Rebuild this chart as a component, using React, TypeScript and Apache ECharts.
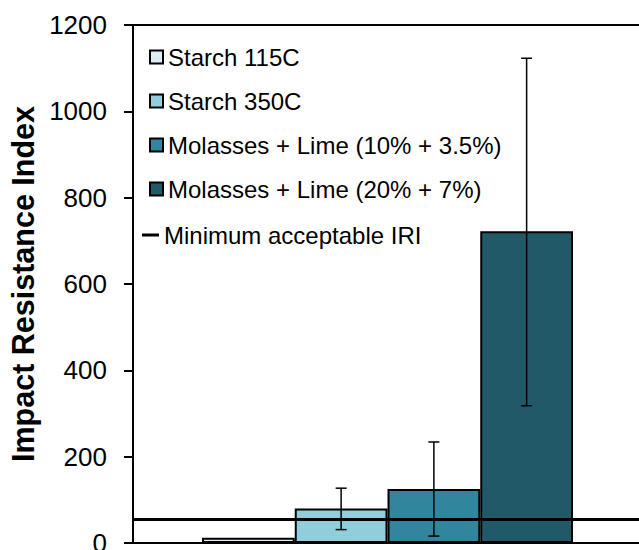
import React, { useEffect, useRef } from "react";
import * as echarts from "echarts";

const seriesNames = [
  "Starch 115C",
  "Starch 350C",
  "Molasses + Lime (10% + 3.5%)",
  "Molasses + Lime (20% + 7%)",
];
const barValues = [12, 80, 125, 722];
const errLow = [null, 31, 16, 318];
const errHigh = [null, 127, 234, 1123];
const barColors = ["#DAEEF3", "#92CDDC", "#31859C", "#215968"];
const lineName = "Minimum acceptable IRI";
const minIRI = 56;
const yTicks = { min: 0, max: 1200, interval: 200 };

const FONT = "'Liberation Sans', Arial, sans-serif";
const BAR_W = 92.75;

export default function App() {
  const ref = useRef<HTMLDivElement>(null);
  useEffect(() => {
    if (!ref.current) return;
    const chart = echarts.init(ref.current, undefined, { renderer: "svg" });
    const errData = errLow
      .map((lo, i) => (lo == null ? null : [0, lo, errHigh[i], i]))
      .filter((d) => d !== null);
    const option: any = {
      animation: false,
      backgroundColor: "#ffffff",
      textStyle: { fontFamily: FONT, color: "#000" },
      grid: {
        left: 133,
        top: 25,
        width: 509,
        height: 518,
        containLabel: false,
        outerBoundsMode: "none",
      },
      legend: [
        {
          data: seriesNames,
          orient: "vertical",
          left: 149,
          top: 45,
          itemWidth: 13,
          itemHeight: 13,
          itemGap: 20,
          padding: 0,
          icon: "rect",
          textStyle: { fontFamily: FONT, fontSize: 24, lineHeight: 24, color: "#000" },
        },
        {
          data: [{ name: lineName, icon: "rect" }],
          orient: "vertical",
          left: 142,
          top: 223,
          itemWidth: 17,
          itemHeight: 3,
          padding: 0,
          itemStyle: { color: "#000", borderWidth: 0 },
          textStyle: { fontFamily: FONT, fontSize: 24, lineHeight: 24, color: "#000" },
        },
      ],
      xAxis: [
        {
          type: "category",
          data: [""],
          axisLine: { show: true, lineStyle: { color: "#000", width: 2 } },
          axisTick: { show: false },
          axisLabel: { show: false },
        },
        {
          type: "category",
          position: "top",
          data: [""],
          axisLine: { show: true, lineStyle: { color: "#000", width: 2 } },
          axisTick: { show: false },
          axisLabel: { show: false },
        },
      ],
      yAxis: {
        type: "value",
        min: yTicks.min,
        max: yTicks.max,
        interval: yTicks.interval,
        name: "Impact Resistance Index",
        nameLocation: "middle",
        nameGap: 95,
        nameTextStyle: { fontFamily: FONT, fontSize: 30.5, fontWeight: "bold", color: "#000" },
        axisLine: { show: true, lineStyle: { color: "#000", width: 2 } },
        axisTick: { show: true, length: 9, lineStyle: { color: "#000", width: 2 } },
        axisLabel: {
          margin: 26,
          fontSize: 26,
          color: "#000",
          fontFamily: FONT,
          formatter: (v: number) => String(v),
        },
        splitLine: { show: false },
      },
      series: [
        ...seriesNames.map((name, i) => ({
          name,
          type: "bar",
          data: [barValues[i]],
          barWidth: BAR_W,
          barGap: "0%",
          z: 2,
          itemStyle: { color: barColors[i], borderColor: "#000", borderWidth: 2 },
        })),
        {
          name: lineName,
          type: "line",
          data: [],
          symbol: "none",
          showSymbol: false,
          z: 5,
          lineStyle: { color: "#000", width: 3 },
          itemStyle: { color: "#000" },
          markLine: {
            silent: true,
            symbol: "none",
            label: { show: false },
            lineStyle: { color: "#000", width: 3, type: "solid" },
            data: [{ yAxis: minIRI }],
          },
        },
        {
          name: "errors",
          type: "custom",
          z: 10,
          encode: { x: 0, y: [1, 2] },
          data: errData,
          renderItem: (params: any, api: any) => {
            const idx = api.value(3);
            const cx = api.coord([0, 0])[0] + (idx - 1.5) * BAR_W;
            const yl = api.coord([0, api.value(1)])[1];
            const yh = api.coord([0, api.value(2)])[1];
            const style = { stroke: "#000", lineWidth: 1.5 };
            const cap = 5.5;
            return {
              type: "group",
              children: [
                { type: "line", shape: { x1: cx, y1: yl, x2: cx, y2: yh }, style },
                { type: "line", shape: { x1: cx - cap, y1: yh, x2: cx + cap, y2: yh }, style },
                { type: "line", shape: { x1: cx - cap, y1: yl, x2: cx + cap, y2: yl }, style },
              ],
            };
          },
        },
      ],
    };
    chart.setOption(option);
    return () => chart.dispose();
  }, []);
  return (
    <div
      ref={ref}
      style={{ position: "fixed", left: 0, top: 0, width: 639, height: 550, background: "#fff" }}
    />
  );
}
